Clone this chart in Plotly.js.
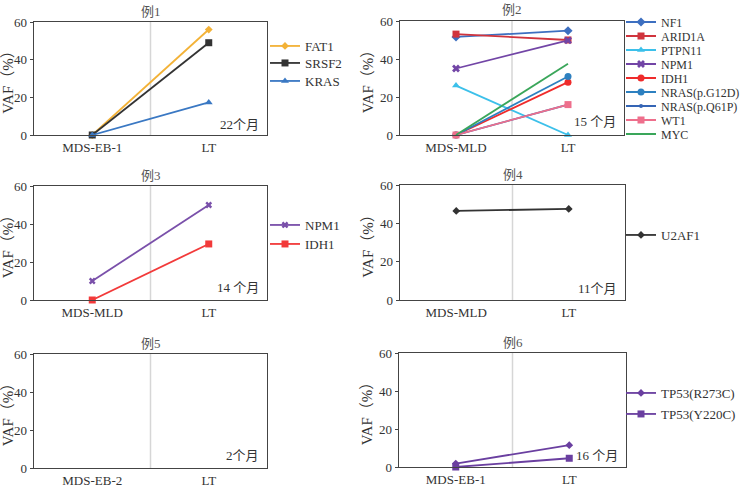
<!DOCTYPE html>
<html>
<head>
<meta charset="utf-8">
<script src="https://cdn.plot.ly/plotly-3.0.1.min.js"></script>
<style>html,body{margin:0;padding:0;background:#fff;}#chart{width:748px;height:488px;}</style>
</head>
<body>
<div id="chart"></div>
<script>
// ---- data ----
const cats1 = ['MDS-EB-1', 'LT'];
const cats2 = ['MDS-MLD', 'LT'];
const cats3 = ['MDS-MLD', 'LT'];
const cats4 = ['MDS-MLD', 'LT'];
const cats5 = ['MDS-EB-2', 'LT'];
const cats6 = ['MDS-EB-1', 'LT'];
const panelTitles = ['例1', '例2', '例3', '例4', '例5', '例6'];
const panelNotes = ['22个月', '15 个月', '14 个月', '11个月', '2个月', '16 个月'];
const yTicks = [0, 20, 40, 60];

// 例1
const p1Genes = ['FAT1', 'SRSF2', 'KRAS'];
const p1FAT1 = [0, 56];
const p1SRSF2 = [0, 49];
const p1KRAS = [0, 17.3];
// 例2
const p2Genes = ['NF1', 'ARID1A', 'PTPN11', 'NPM1', 'IDH1', 'NRAS(p.G12D)', 'NRAS(p.Q61P)', 'WT1', 'MYC'];
const p2NF1 = [51.6, 54.9];
const p2ARID1A = [53.1, 50.0];
const p2PTPN11 = [26.0, 0];
const p2NPM1 = [35.0, 49.8];
const p2IDH1 = [0, 27.8];
const p2NRASG12D = [0, 30.8];
const p2NRASQ61P = [0, 16.0];
const p2WT1 = [0, 16.0];
const p2MYC = [0, 37.5];
// 例3
const p3Genes = ['NPM1', 'IDH1'];
const p3NPM1 = [10.0, 50.0];
const p3IDH1 = [0, 29.5];
// 例4
const p4Genes = ['U2AF1'];
const p4U2AF1 = [46.5, 47.5];
// 例5: no mutations
// 例6
const p6Genes = ['TP53(R273C)', 'TP53(Y220C)'];
const p6R273C = [1.8, 11.5];
const p6Y220C = [0, 4.6];

// ---- styles ----
const W = 748, H = 488;
const serif = 'Liberation Serif, Times New Roman, Noto Sans CJK SC, serif';
const textColor = '#333333';

const panels = [
  {cats: cats1, series: [
    {name: p1Genes[0], y: p1FAT1, color: '#f3b237', symbol: 'diamond', size: 6},
    {name: p1Genes[1], y: p1SRSF2, color: '#333333', symbol: 'square', size: 7},
    {name: p1Genes[2], y: p1KRAS, color: '#3a78c3', symbol: 'triangle-up', size: 7}
  ], legendY: [46, 63, 81], legendFont: 13},
  {cats: cats2, series: [
    {name: p2Genes[0], y: p2NF1, color: '#3d6fc0', symbol: 'diamond', size: 7},
    {name: p2Genes[1], y: p2ARID1A, color: '#d0343d', symbol: 'square', size: 7},
    {name: p2Genes[2], y: p2PTPN11, color: '#3cc0ea', symbol: 'triangle-up', size: 7},
    {name: p2Genes[3], y: p2NPM1, color: '#7245a6', symbol: 'x', size: 7},
    {name: p2Genes[4], y: p2IDH1, color: '#ef2b2b', symbol: 'circle', size: 7},
    {name: p2Genes[5], y: p2NRASG12D, color: '#2d80c0', symbol: 'circle', size: 7},
    {name: p2Genes[6], y: p2NRASQ61P, color: '#3565b5', symbol: 'circle', size: 4},
    {name: p2Genes[7], y: p2WT1, color: '#ee6f8c', symbol: 'square', size: 7},
    {name: p2Genes[8], y: p2MYC, color: '#3aa65a', symbol: null, size: 0}
  ], legendY: [22, 36, 50, 64, 78, 92, 106, 120, 134], legendFont: 12},
  {cats: cats3, series: [
    {name: p3Genes[0], y: p3NPM1, color: '#7a50aa', symbol: 'x', size: 6},
    {name: p3Genes[1], y: p3IDH1, color: '#f23a3a', symbol: 'square', size: 7}
  ], legendY: [225, 244], legendFont: 13},
  {cats: cats4, series: [
    {name: p4Genes[0], y: p4U2AF1, color: '#333333', symbol: 'diamond', size: 6}
  ], legendY: [235], legendFont: 13},
  {cats: cats5, series: [], legendY: [], legendFont: 13},
  {cats: cats6, series: [
    {name: p6Genes[0], y: p6R273C, color: '#6a3fa0', symbol: 'diamond', size: 6},
    {name: p6Genes[1], y: p6Y220C, color: '#6a3fa0', symbol: 'square', size: 7}
  ], legendY: [393, 414], legendFont: 13}
];

// plot-area boxes in pixels [left, right, top, bottom]
const boxes = [
  [34, 267, 22, 135], [400, 624, 21, 135],
  [34, 267, 186, 300], [400, 625, 185, 300],
  [34, 267, 354, 468], [399, 626, 353, 467]
];
const legendX = [265, 621, 265, 621, 265, 621];
const noteY = [125, 121, 287, 288, 455, 455];

const data = [];
const layout = {
  width: W, height: H,
  margin: {l: 0, r: 0, t: 0, b: 0},
  paper_bgcolor: '#ffffff', plot_bgcolor: '#ffffff',
  font: {family: serif, size: 13, color: textColor},
  showlegend: true,
  annotations: [], shapes: []
};

let legendCount = 0;
panels.forEach((p, i) => {
  const k = i + 1;
  const xa = k === 1 ? 'x' : 'x' + k;
  const ya = k === 1 ? 'y' : 'y' + k;
  const b = boxes[i];
  layout['xaxis' + (k === 1 ? '' : k)] = {
    domain: [b[0] / W, b[1] / W], anchor: ya,
    type: 'category', categoryorder: 'array', categoryarray: p.cats,
    range: [-0.5, 1.5], showgrid: false, zeroline: false,
    showline: true, mirror: true, linecolor: '#444', linewidth: 1.3,
    ticks: '', tickfont: {size: 13, color: textColor, family: serif}, fixedrange: true
  };
  layout['yaxis' + (k === 1 ? '' : k)] = {
    domain: [1 - b[3] / H, 1 - b[2] / H], anchor: xa,
    range: [0, 60], tickvals: yTicks, showgrid: false, zeroline: false,
    showline: true, mirror: true, linecolor: '#444', linewidth: 1.3,
    ticks: 'outside', ticklen: 3, tickcolor: '#444', tickwidth: 1,
    tickfont: {size: 13, color: textColor, family: serif},
    title: {text: 'VAF（%）', font: {size: 15, color: textColor, family: serif}, standoff: 2},
    fixedrange: true
  };
  // divider between the two time points
  layout.shapes.push({type: 'line', xref: xa, yref: ya + ' domain', x0: 0.5, x1: 0.5, y0: 0, y1: 1,
    line: {color: '#d6d6d6', width: 1.5}, layer: 'below'});
  // panel title
  layout.annotations.push({text: panelTitles[i], xref: xa + ' domain', yref: 'paper',
    x: 0.5, y: 1 - (b[2] - 11) / H, xanchor: 'center', yanchor: 'middle', showarrow: false,
    font: {size: 13, color: '#555', family: serif}});
  // interval note
  layout.annotations.push({text: panelNotes[i], xref: 'paper', yref: 'paper',
    x: (b[1] - 6) / W, y: 1 - noteY[i] / H, xanchor: 'right', yanchor: 'middle', showarrow: false,
    font: {size: 13, color: textColor, family: serif}});

  if (p.series.length === 0) {
    data.push({type: 'scatter', x: p.cats, y: [null, null], xaxis: xa, yaxis: ya,
      mode: 'lines', showlegend: false, hoverinfo: 'skip'});
  }
  p.series.forEach((s, j) => {
    legendCount++;
    const lg = legendCount === 1 ? 'legend' : 'legend' + legendCount;
    layout[lg] = {
      x: legendX[i] / W, y: 1 - p.legendY[j] / H, xanchor: 'left', yanchor: 'middle',
      bgcolor: 'rgba(0,0,0,0)', borderwidth: 0,
      font: {size: p.legendFont, color: textColor, family: serif}
    };
    const tr = {
      type: 'scatter', name: s.name, x: p.cats, y: s.y, xaxis: xa, yaxis: ya,
      legend: lg, cliponaxis: false,
      mode: s.symbol ? 'lines+markers' : 'lines',
      line: {color: s.color, width: 1.8}
    };
    if (s.symbol) {
      tr.marker = {symbol: s.symbol, size: s.size, color: s.color, line: {color: s.color, width: 0}};
    }
    data.push(tr);
  });
});

Plotly.newPlot('chart', data, layout, {staticPlot: true, displayModeBar: false});
</script>
</body>
</html>
